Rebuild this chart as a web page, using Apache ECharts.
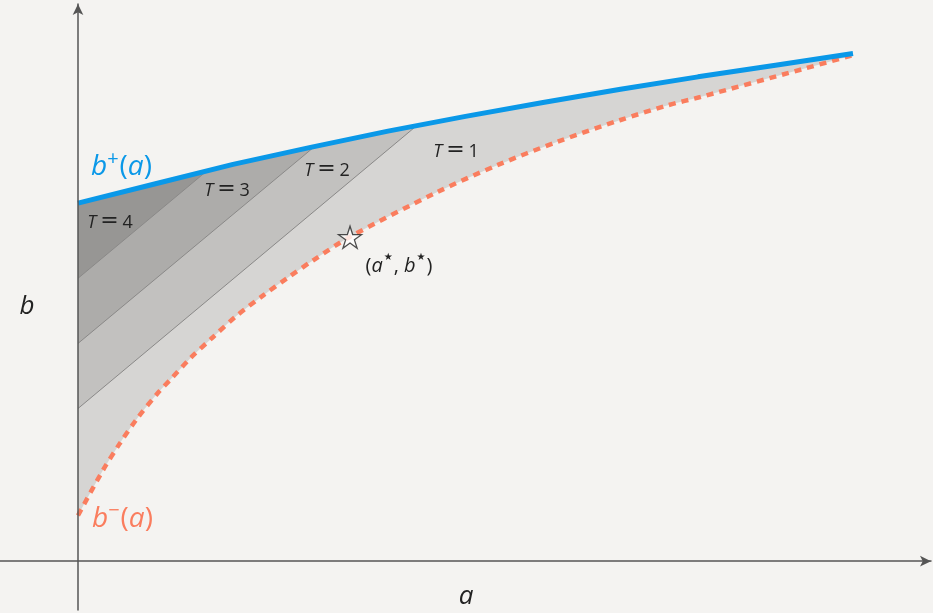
<!DOCTYPE html>
<html><head><meta charset="utf-8">
<script src="https://cdn.jsdelivr.net/npm/echarts@6/dist/echarts.min.js"></script>
<style>html,body{margin:0;padding:0;background:#f4f3f1}#c{width:933px;height:613px}</style>
</head><body><div id="c"></div>
<script>
// upper boundary b+(a)
const aBlue = [0,1,2,3,4,5,6,7,8,9,10];
const bBlue = [4.62,4.87,5.12,5.34,5.55,5.74,5.92,6.09,6.25,6.40,6.55];
// lower boundary b-(a)
const aRed = [0,0.32,0.54,0.77,1.03,1.19,1.45,1.74,2.05,2.39,2.71,3.03,3.5,4.63,5.41,6.18,6.99,7.6,8.03,9.35,10];
const bRed = [0.59,1.17,1.52,1.85,2.17,2.34,2.62,2.89,3.17,3.43,3.66,3.88,4.18,4.76,5.11,5.41,5.69,5.88,5.99,6.35,6.53];
// T boundary lines: start on the b axis, end on b+(a)
const lineStartB = [1.97, 2.81, 3.65];
const lineEndA = [4.37, 3.04, 1.68];
const lineEndB = [5.62, 5.34, 5.05];
const tLabels = ['1','2','3','4'];
const star = [3.51, 4.18];

const BG = '#f4f3f1';
const bandColors = ['#d6d5d3','#c2c1bf','#adacaa','#979694'];
const FONT = 'Open Sans';

const blueData = aBlue.map((a,i)=>[a,bBlue[i]]);
const redData = aRed.map((a,i)=>[a,bRed[i]]);
function capped(k){
  const pts = [[0,lineStartB[k]],[lineEndA[k],lineEndB[k]]];
  aBlue.forEach((a,i)=>{ if(a>lineEndA[k]) pts.push([a,bBlue[i]]); });
  return pts;
}
function area(data,color,z,smooth){
  return {type:'line',data,smooth:smooth||false,symbol:'none',showSymbol:false,
    lineStyle:{width:0,opacity:0},areaStyle:{color,opacity:1,origin:'start'},z,silent:true};
}
const series = [
  area(blueData,bandColors[3],1),
  area(capped(2),bandColors[2],2),
  area(capped(1),bandColors[1],3),
  area(capped(0),bandColors[0],4),
  area(redData,BG,5,0.3),
];
for(let k=0;k<3;k++){
  series.push({type:'line',data:[[0,lineStartB[k]],[lineEndA[k],lineEndB[k]]],symbol:'none',
    lineStyle:{color:'#8a8988',width:1},z:6,silent:true});
}
series.push({type:'line',data:redData,smooth:0.3,symbol:'none',
  lineStyle:{color:'#fa7d5e',width:4.5,type:[7,6],cap:'butt'},z:7,silent:true});
series.push({type:'line',data:blueData,symbol:'none',
  lineStyle:{color:'#0a98e8',width:5,cap:'butt'},z:8,silent:true});
series.push({type:'scatter',data:[star],
  symbol:'path://M50,0L61.2,34.5L97.6,34.5L68.2,55.9L79.4,90.5L50,69.1L20.6,90.5L31.8,55.9L2.4,34.5L38.8,34.5Z',
  symbolSize:[23,22],itemStyle:{color:'#ffffff',borderColor:'#222',borderWidth:1.3},z:9,silent:true});

const axisCommon = {type:'value',z:20,axisTick:{show:false},axisLabel:{show:false},splitLine:{show:false},
  axisLine:{show:true,onZero:true,symbol:['none','arrow'],symbolSize:[8,11],lineStyle:{color:'#555',width:1.5}}};

const it = {fontFamily:FONT,fontStyle:'italic'};
const up = {fontFamily:FONT,fontStyle:'normal'};
function txt(x,y,text,rich,align,fill){
  return {type:'text',x,y,z:30,style:{text,rich,align:align||'center',verticalAlign:'middle',fill:fill||'#222',font:'20px '+FONT}};
}
function bRich(color){
  return {
    i:Object.assign({fontSize:28,lineHeight:34,verticalAlign:'bottom',fill:color},it),
    n:Object.assign({fontSize:28,lineHeight:34,verticalAlign:'bottom',fill:color},up),
    s:Object.assign({fontSize:20,lineHeight:20,padding:[0,1,12,0],verticalAlign:'bottom',fill:color},up)
  };
}
const tRich = {
  i:Object.assign({fontSize:18,lineHeight:26,verticalAlign:'bottom',fill:'#222'},it),
  e:{fontFamily:'DejaVu Sans',fontSize:22,lineHeight:26,verticalAlign:'bottom',fill:'#222',padding:[0,4,0,4]},
  n:Object.assign({fontSize:18,lineHeight:26,verticalAlign:'bottom',fill:'#222'},up)
};
const sRich = {
  i:Object.assign({fontSize:20,lineHeight:28,verticalAlign:'bottom',fill:'#222'},it),
  n:Object.assign({fontSize:20,lineHeight:28,verticalAlign:'bottom',fill:'#222'},up),
  s:{fontFamily:'DejaVu Sans',fontSize:10,lineHeight:10,padding:[0,1,14,1],verticalAlign:'bottom',fill:'#222'}
};
const tPos = [[456,148],[327,167],[227,187],[110,219]];
const graphic = [
  txt(91,164,'{i|b}{s|+}{n|(}{i|a}{n|)}',bRich('#0a98e8'),'left'),
  txt(92,516,'{i|b}{s|−}{n|(}{i|a}{n|)}',bRich('#fa7d5e'),'left'),
  txt(399,262,'{n|(}{i|a}{s|★}{n|, }{i|b}{s|★}{n|)}',sRich),
  {type:'text',x:466,y:597,z:30,style:{text:'a',fill:'#222',font:'italic 26px '+FONT,align:'center',verticalAlign:'middle'}},
  {type:'text',x:27,y:307,z:30,style:{text:'b',fill:'#222',font:'italic 26px '+FONT,align:'center',verticalAlign:'middle'}},
];
tLabels.forEach((t,k)=>{
  graphic.push(txt(tPos[k][0],tPos[k][1],'{i|T}{e|=}{n|'+t+'}',tRich));
});

const chart = echarts.init(document.getElementById('c'));
chart.setOption({
  backgroundColor:BG,
  animation:false,
  grid:{left:0,right:2,top:4,bottom:3,containLabel:false},
  xAxis:Object.assign({min:-78/77.5,max:853/77.5},axisCommon),
  yAxis:Object.assign({min:-0.63,max:7.19},axisCommon),
  series,
  graphic
});
</script></body></html>
